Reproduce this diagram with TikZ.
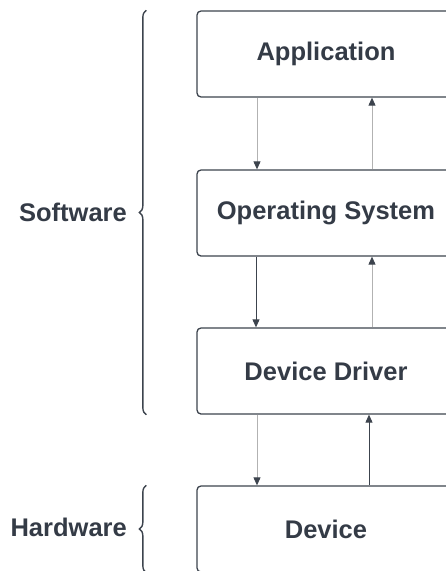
\documentclass[tikz,border=0pt]{standalone}
\usepackage{fontspec}
\setmainfont{Liberation Sans}
\usepackage{xcolor}
\usetikzlibrary{arrows.meta,decorations.pathreplacing}
\definecolor{InkGray}{HTML}{343B46}
\definecolor{EdgeGray}{HTML}{3C434D}
\definecolor{LightLine}{HTML}{B2B2B2}
\tikzstyle{layerBlock}=[draw=EdgeGray,line width=1.3pt,rounded corners=4pt,minimum width=258pt,minimum height=86pt,inner sep=1pt,text=InkGray,font=\fontsize{25.5}{30}\selectfont\bfseries]
\tikzstyle{groupLabel}=[anchor=east,inner sep=0pt,text=InkGray,font=\fontsize{25.5}{30}\selectfont\bfseries]
\tikzstyle{groupBrace}=[decorate,decoration={brace,amplitude=7pt},draw=EdgeGray,line width=1.4pt]
\tikzstyle{darkFlow}=[-{Triangle[length=8pt,width=7pt]},draw=EdgeGray,line width=0.9pt]
\tikzstyle{lightFlow}=[-{Triangle[length=8pt,width=7pt,color=EdgeGray]},draw=LightLine,line width=0.9pt]

\begin{document}
\begin{tikzpicture}
    \clip (0pt,0pt) rectangle (446pt,-571pt);
    \useasboundingbox (0pt,0pt) rectangle (446pt,-571pt);

    % Layers
    \node[layerBlock] (app) at (326pt,-54pt) {Application};
    \node[layerBlock] (os) at (326pt,-213pt) {Operating System};
    \node[layerBlock] (drv) at (326pt,-371pt) {Device Driver};
    \node[layerBlock] (dev) at (326pt,-529pt) {Device};

    % Calls between layers
    \draw[lightFlow] ([xshift=-69pt]app.south) -- ([xshift=-69pt]os.north);
    \draw[lightFlow] ([xshift=46pt]os.north) -- ([xshift=46pt]app.south);
    \draw[darkFlow] ([xshift=-70pt]os.south) -- ([xshift=-70pt]drv.north);
    \draw[lightFlow] ([xshift=46pt]drv.north) -- ([xshift=46pt]os.south);
    \draw[lightFlow] ([xshift=-69pt]drv.south) -- ([xshift=-69pt]dev.north);
    \draw[darkFlow] ([xshift=43pt]dev.north) -- ([xshift=43pt]drv.south);

    % Groups
    \draw[groupBrace] ([xshift=-50pt]drv.south west) -- ([xshift=-50pt]app.north west);
    \node[groupLabel] (software) at (127pt,-212pt) {Software};
    \draw[groupBrace] ([xshift=-50pt]dev.south west) -- ([xshift=-50pt]dev.north west);
    \node[groupLabel] (hardware) at (127pt,-527pt) {Hardware};
\end{tikzpicture}
\end{document}
